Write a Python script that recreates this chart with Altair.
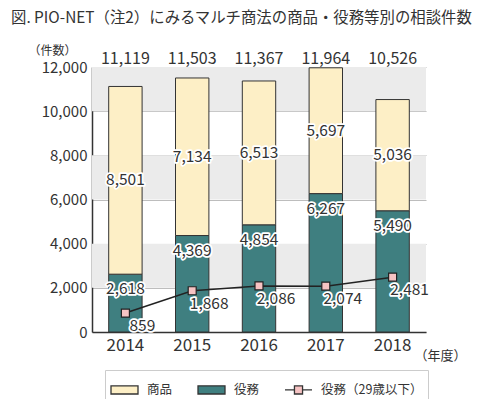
import altair as alt
import pandas as pd

years = ["2014", "2015", "2016", "2017", "2018"]
shohin = [8501, 7134, 6513, 5697, 5036]
ekimu = [2618, 4369, 4854, 6267, 5490]
totals = [11119, 11503, 11367, 11964, 10526]
young = [859, 1868, 2086, 2074, 2481]
series_names = ["商品", "役務", "役務（29歳以下）"]
series_colors = ["#FDEFC6", "#3F7F80", "#F6C3C3"]
y_ticks = [0, 2000, 4000, 6000, 8000, 10000, 12000]

FONT = "Noto Sans CJK JP"
TXT = "#333333"
W, H = 334, 265

bars = pd.DataFrame(
    [{"year": y, "series": "役務", "lo": 0, "hi": e} for y, e in zip(years, ekimu)]
    + [{"year": y, "series": "商品", "lo": e, "hi": t} for y, e, t in zip(years, ekimu, totals)]
)
vals = pd.DataFrame({"year": years, "shohin": shohin, "ekimu": ekimu,
                     "total": totals, "young": young})
vals["mid"] = (vals["ekimu"] + vals["total"]) / 2
line_df = pd.DataFrame({"year": years, "value": young, "series": series_names[2]})
bands = pd.DataFrame({"lo": y_ticks[1::2], "hi": y_ticks[2::2]})

yscale = alt.Scale(domain=[0, 12000])
xscale = alt.Scale(paddingInner=0.5, paddingOuter=0.25)
xaxis = alt.Axis(title="（年度）", labelAngle=0, labelFontSize=17,
                 labelPadding=5, ticks=False, domainColor=TXT,
                 domainWidth=1.5, titleX=348, titleY=23,
                 titleFontSize=13, titleFontWeight="normal",
                 titleBaseline="middle", titleAlign="center")
yaxis = alt.Axis(values=y_ticks, format=",.0f", title="（件数）",
                 labelFontSize=15, labelPadding=5, ticks=False,
                 domainColor=TXT, domainWidth=1.5, grid=True,
                 gridColor="#BDBDBD", titleAngle=0, titleX=-40,
                 titleY=-17, titleFontSize=12,
                 titleFontWeight="normal", titleAlign="center",
                 titleBaseline="middle")


def xref():
    return alt.X("year:N", scale=xscale, axis=xaxis)


def yref(field):
    return alt.Y(f"{field}:Q", scale=yscale, axis=yaxis)


legend = alt.Legend(
    title=None, orient="none", legendX=13, legendY=303, direction="horizontal",
    symbolType=alt.ExprRef(expr="datum.label == '役務（29歳以下）' ? "
                                "'M-1,0H-0.3M0.3,0H1M-0.3,-0.3H0.3V0.3H-0.3Z' : "
                                "'M-1,-0.3H1V0.3H-1Z'"),
    symbolSize=729, symbolStrokeColor=TXT, symbolStrokeWidth=1.3,
    symbolOpacity=1, labelFontSize=12.5, labelColor=TXT, labelFont=FONT,
    columnPadding=22, labelOffset=8, strokeColor="#CCCCCC", padding=5,
)
fill = alt.Fill("series:N", scale=alt.Scale(domain=series_names, range=series_colors),
                legend=legend)

band_layer = alt.Chart(bands).mark_rect(color="#EBEBEB").encode(
    x=alt.value(0), x2=alt.value(W),
    y=yref("lo"), y2="hi:Q",
)

bar_layer = alt.Chart(bars).mark_bar(stroke=TXT, strokeWidth=1).encode(
    x=xref(), y=yref("lo"), y2="hi:Q", fill=fill,
)

line_layer = alt.Chart(line_df).mark_line(color="#222222", strokeWidth=1.5).encode(
    x=xref(), y=yref("value")
)
point_layer = alt.Chart(line_df).mark_point(
    shape="square", filled=True, size=64, stroke="#222222", strokeWidth=1.2, opacity=1
).encode(x=xref(), y=yref("value"), fill=fill)


def halo_text(data, field, yfield, fs, dx=0, dy=0):
    base = alt.Chart(data)
    kw = dict(font=FONT, fontSize=fs, dx=dx, dy=dy, align="center", baseline="middle")
    enc = dict(x=xref(), y=yref(yfield), text=alt.Text(f"{field}:Q", format=","))
    back = base.mark_text(stroke="white", strokeWidth=3.5, strokeJoin="round",
                          fill="white", **kw).encode(**enc)
    front = base.mark_text(fill=TXT, **kw).encode(**enc)
    return [back, front]


texts = []
texts += halo_text(vals, "shohin", "mid", 15.5)
texts += halo_text(vals, "ekimu", "ekimu", 15.5, dy=15)
texts += halo_text(line_df, "value", "value", 15.5, dx=17, dy=13)
texts.append(
    alt.Chart(vals).mark_text(font=FONT, fontSize=16, fill=TXT, baseline="middle").encode(
        x=xref(), y=alt.value(-8), text=alt.Text("total:Q", format=",")
    )
)

chart = alt.layer(band_layer, bar_layer, line_layer, point_layer, *texts).properties(
    width=W, height=H,
    title=alt.TitleParams("図. PIO-NET（注2）にみるマルチ商法の商品・役務等別の相談件数",
                          anchor="start", frame="group", dx=-81, offset=18,
                          fontSize=15.4, fontWeight="normal", font=FONT, color=TXT),
    autosize=alt.AutoSizeParams(type="none"),
    padding={"left": 84, "top": 59, "right": 66, "bottom": 67},
).configure_view(stroke=None).configure_axis(
    labelFont=FONT, titleFont=FONT, labelColor=TXT, titleColor=TXT
)

chart.save("out.html", embed_options={"renderer": "svg", "actions": False})
